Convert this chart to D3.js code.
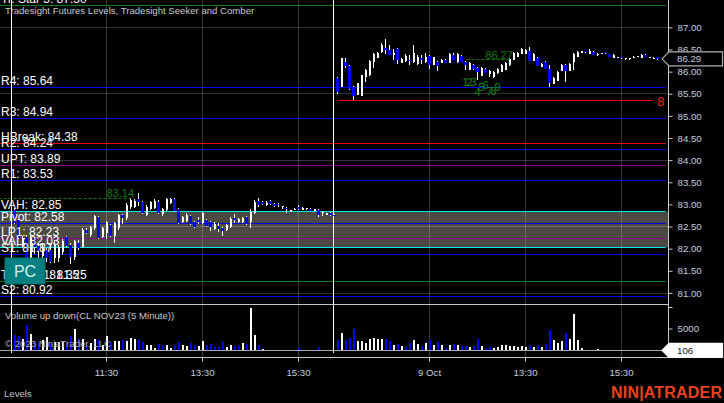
<!DOCTYPE html>
<html><head><meta charset="utf-8">
<script src="https://cdn.jsdelivr.net/npm/d3@7"></script>
<style>
html,body{margin:0;padding:0;background:#000;overflow:hidden}
svg{display:block}
text{font-family:"Liberation Sans",Arial,sans-serif}
</style></head><body><svg id="c" width="724" height="403"></svg>
<script>
// [open, high, low, close]
const session1 = [
[82.87,82.92,82.56,82.58],[82.65,82.67,82.22,82.24],[82.08,82.29,82.02,82.24],[82.26,82.31,81.77,81.79],
[81.79,82.29,81.74,82.24],[82.24,82.26,81.88,82.04],[82.06,82.13,81.79,81.95],[81.83,82.11,81.70,82.02],
[81.97,82.02,81.70,81.79],[81.97,82.08,81.68,81.70],[81.79,82.20,81.68,82.08],[81.79,82.08,81.70,82.04],
[81.92,82.22,81.86,82.17],[82.26,82.29,82.04,82.06],[82.08,82.13,81.65,81.81],[81.81,82.20,81.74,82.17],
[82.13,82.20,81.97,82.02],[82.04,82.47,82.02,82.42],[82.42,82.47,82.33,82.35],[82.31,82.51,82.26,82.49],
[82.47,82.76,82.42,82.74],[82.72,82.74,82.22,82.24],[82.26,82.49,82.24,82.47],[82.35,82.63,82.22,82.60],
[82.53,82.56,82.26,82.29],[82.29,82.60,82.13,82.58],[82.47,82.78,82.42,82.76],[82.76,82.78,82.56,82.69],
[82.69,83.03,82.65,82.99],[82.94,83.15,82.90,83.10],[82.94,83.12,82.92,83.08],[83.12,83.26,82.96,83.05],
[83.05,83.08,82.78,82.80],[82.76,82.99,82.74,82.94],[82.90,83.08,82.87,83.05],[82.92,83.12,82.90,83.08],
[83.05,83.10,82.78,82.81],[82.78,82.92,82.74,82.90],[82.87,83.15,82.85,83.12],[83.03,83.15,83.01,83.12],
[83.12,83.15,82.83,82.85],[82.90,82.92,82.56,82.58],[82.60,82.74,82.58,82.72],[82.63,82.80,82.60,82.76],
[82.74,82.76,82.53,82.56],[82.60,82.63,82.47,82.49],[82.65,82.72,82.56,82.60],[82.58,82.83,82.56,82.81],
[82.65,82.67,82.49,82.51],[82.60,82.63,82.40,82.49],[82.44,82.60,82.42,82.56],[82.51,82.58,82.38,82.44],
[82.47,82.49,82.29,82.40],[82.42,82.56,82.40,82.53],[82.49,82.72,82.47,82.67],[82.69,82.78,82.58,82.65],
[82.60,82.69,82.58,82.67],[82.60,82.72,82.58,82.69],[82.72,82.74,82.53,82.56],[82.60,82.90,82.47,82.83],
[82.81,83.10,82.78,83.05],[83.08,83.15,82.94,82.99],[83.05,83.08,82.99,83.01],[82.99,83.08,82.96,83.03],
[83.08,83.10,82.99,83.01],[83.01,83.03,82.94,82.96],[83.01,83.03,82.94,82.99],[82.94,82.96,82.90,82.96],
[82.92,82.94,82.81,82.90],[82.83,82.87,82.83,82.87],[82.87,82.92,82.87,82.90],[82.94,82.99,82.87,82.90],
[82.87,82.94,82.87,82.92],[82.88,82.92,82.87,82.91],[82.90,82.92,82.83,82.85],[82.85,82.90,82.85,82.89],
[82.87,82.90,82.72,82.76],[82.80,82.85,82.74,82.83],[82.76,82.81,82.76,82.81],[82.81,82.83,82.74,82.76],
[82.76,82.78,82.74,82.75]];
const session2 = [
[85.86,85.88,85.50,85.54],[85.65,86.31,85.65,86.31],[86.22,86.31,86.08,86.13],[86.13,86.15,85.59,85.61],
[85.65,85.68,85.36,85.45],[85.47,85.75,85.47,85.75],[85.45,85.92,85.45,85.92],[85.88,86.06,85.77,86.04],
[85.92,86.26,85.90,86.24],[86.22,86.42,86.08,86.40],[86.31,86.44,86.31,86.42],[86.44,86.65,86.42,86.60],
[86.53,86.74,86.40,86.49],[86.49,86.60,86.38,86.38],[86.38,86.51,86.26,86.42],[86.51,86.53,86.17,86.26],
[86.20,86.31,86.20,86.29],[86.24,86.40,86.22,86.35],[86.26,86.38,86.15,86.24],[86.22,86.60,86.20,86.42],
[86.17,86.38,86.15,86.33],[86.31,86.38,86.17,86.26],[86.22,86.42,86.20,86.33],[86.35,86.38,86.06,86.15],
[86.15,86.33,86.15,86.33],[86.22,86.24,86.02,86.13],[86.20,86.29,86.20,86.27],[86.26,86.29,86.20,86.20],
[86.20,86.42,86.20,86.40],[86.38,86.42,86.26,86.26],[86.22,86.42,86.20,86.40],[86.35,86.38,86.22,86.22],
[86.22,86.24,86.04,86.15],[86.04,86.22,86.04,86.20],[86.15,86.17,86.04,86.06],[86.08,86.11,85.81,85.99],
[85.90,86.11,85.90,86.08],[86.06,86.08,85.97,85.97],[85.95,86.04,85.88,86.02],[85.88,86.02,85.86,86.00],
[85.97,86.08,85.95,86.06],[86.00,86.17,85.99,86.15],[86.04,86.22,86.04,86.20],[86.15,86.31,86.13,86.29],
[86.26,86.44,86.26,86.42],[86.33,86.44,86.33,86.42],[86.40,86.53,86.40,86.51],[86.40,86.51,86.40,86.49],
[86.47,86.56,86.24,86.24],[86.24,86.42,86.24,86.40],[86.31,86.33,86.13,86.13],[86.11,86.20,86.11,86.18],
[86.22,86.24,86.06,86.06],[86.06,86.15,85.65,85.74],[85.72,85.88,85.72,85.86],[85.79,86.02,85.79,86.00],
[86.02,86.17,86.02,86.15],[86.15,86.17,85.77,86.02],[86.02,86.20,86.02,86.18],[86.22,86.42,86.04,86.40],
[86.33,86.47,86.33,86.45],[86.42,86.47,86.42,86.46],[86.46,86.47,86.42,86.43],[86.41,86.51,86.40,86.47],
[86.44,86.46,86.38,86.38],[86.37,86.42,86.35,86.40],[86.40,86.42,86.40,86.42],[86.44,86.45,86.40,86.41],
[86.40,86.41,86.33,86.34],[86.32,86.40,86.31,86.38],[86.32,86.34,86.31,86.33],[86.33,86.34,86.29,86.30],
[86.27,86.31,86.26,86.30],[86.28,86.31,86.26,86.30],[86.31,86.35,86.31,86.34],[86.33,86.35,86.33,86.35],
[86.32,86.40,86.31,86.38],[86.38,86.40,86.33,86.34],[86.32,86.34,86.31,86.33],[86.30,86.33,86.29,86.32],
[86.33,86.34,86.27,86.29]];
// positive = up volume, negative = down volume
const volume1 = [-3565,-3330,2790,-5890,3800,-2015,-1630,2400,3180,-1630,2015,2015,2015,-2015,-3330,4960,
-2790,2560,-1240,1780,2635,-2400,1240,3330,-2015,2325,2325,-2400,2250,2870,2710,-2400,-1940,1395,1320,540,
-1470,-1240,1240,620,-1240,-2090,1240,1085,-1705,-1320,1085,2170,-1240,-1470,-775,-775,-1940,850,1240,-1085,
-1240,1780,-1470,9840,3565,-1240,310,-155,-155,-155,-155,-155,-155,-230,100,-540,155,155,-230,155,-775,155,155,155];
const volume2 = [-2400,4030,-2400,-2870,-5040,2250,2250,1780,2635,2870,2560,2635,-2635,-2170,1320,-1470,1000,-775,
-1630,2400,1470,-1000,1705,-2400,1240,-1940,1240,-540,1240,-1470,1240,-1000,-1000,775,-1000,-2635,1000,-620,-775,
540,775,1240,1240,1000,1000,775,1000,775,-1240,775,-1240,775,-1470,-4730,2400,1860,2170,-4030,2635,8450,2400,540,
155,-155,-155,310,230,-155,-155,155,-155,155,100,100,100,100,-120,-106];

const priceTicks = [87,86.5,86,85.5,85,84.5,84,83.5,83,82.5,82,81.5,81];
const gridPrices = [87,85.5,84,82.5,81];
const volumeTicks = [5000,10000];
const timeTickBars = [23,47,71,103.75,127.75,151.75];
const timeTickLabels = ["11:30","13:30","15:30","9 Oct","13:30","15:30"];
const sessionBreakBars = [-0.75,79.75];
const session2Offset = 80.75;

const blueLevels = [85.64,84.94,84.24,83.53,82.58,81.87,80.92];
const cyanLevels = [82.85,82.03];
const purpleLevels = [83.89,82.23];
const redLevels = [84.38];
const greenLevels = [87.5,81.26];
const levelLabels = [
 ["Tr. Star 5: 87.50",87.5],["R4: 85.64",85.64],["R3: 84.94",84.94],["HBreak: 84.38",84.38],["R2: 84.24",84.24],
 ["UPT: 83.89",83.89],["R1: 83.53",83.53],["VAH: 82.85",82.85],["Pivot: 82.58",82.58],["LP1: 82.23",82.23],
 ["VAL: 82.03",82.03],["S1: 81.87",81.87],["Tr. Star 1: 81.25",81.26],["Tr. Stop: 81.35",81.26],["S2: 80.92",80.92]];
const seekerDigits = ["1","2","3","4","5","6","7","8","9"];
const seekerBars = [32,33,34,35,36,37,38,39,40].map(d=>d+session2Offset);
const seekerPrices = [85.77,85.77,85.77,85.54,85.65,85.70,85.56,85.56,85.65];
const targets = [{label:"83.14",price:83.14,from:-4,to:29,labelBar:23},{label:"86.27",price:86.27,from:113,to:124,labelBar:117.7}];
const redSetup = {price:85.35,from:80.75,to:159.6,mark:"8",markBar:161.6};
const lastPrice = 86.29, lastVolume = 106;

const svg = d3.select("#c");
const x = d3.scaleLinear().domain([0,1]).range([14.5,18.5]);
const y = d3.scaleLinear().domain([81,87]).range([292.92,27.42]);
const v = d3.scaleLinear().domain([0,10000]).range([350.5,307.5]);
const R = 668.5, row = p => Math.floor(p)+0.5;
const gridC = "rgba(255,255,255,0.2)", blue="#0000f0";

function hline(yy,x1,x2,c,w,dash){
  svg.append("line").attr("x1",x1).attr("x2",x2).attr("y1",yy).attr("y2",yy)
   .attr("stroke",c).attr("stroke-width",w||1).attr("stroke-dasharray",dash||null);
}
// band between VAH and VAL
svg.append("rect").attr("x",0).attr("width",R).attr("y",row(y(cyanLevels[0]))).attr("height",row(y(cyanLevels[1]))-row(y(cyanLevels[0]))).attr("fill","#4b4941");
// grid
gridPrices.forEach(p=>hline(row(y(p)+0.2),0,R,gridC));
timeTickBars.forEach(b=>svg.append("line").attr("x1",x(b)).attr("x2",x(b)).attr("y1",0).attr("y2",357).attr("stroke",gridC));
// levels
blueLevels.forEach(p=>hline(row(y(p)),0,665.5,blue));
cyanLevels.forEach(p=>hline(row(y(p)),0,665.5,"#00f0f0"));
purpleLevels.forEach(p=>hline(row(y(p)),0,665.5,"#900090"));
redLevels.forEach(p=>hline(row(y(p)),0,665.5,"#f00000"));
greenLevels.forEach(p=>hline(row(y(p)),0,665.5,"#0a800a"));
// session separators
sessionBreakBars.forEach(b=>svg.append("line").attr("x1",Math.floor(x(b))+.5).attr("x2",Math.floor(x(b))+.5).attr("y1",0).attr("y2",353).attr("stroke","#fff"));
// candles
const bars = session1.map((d,i)=>({d,b:i})).concat(session2.map((d,i)=>({d,b:i+session2Offset})));
const g = svg.append("g");
g.selectAll("line").data(bars).join("line").attr("x1",e=>x(e.b)).attr("x2",e=>x(e.b))
 .attr("y1",e=>Math.round(y(e.d[1]))).attr("y2",e=>Math.round(y(e.d[2]))).attr("stroke","#fff");
g.selectAll("rect").data(bars).join("rect")
 .attr("x",e=>x(e.b)-(e.d[3]>=e.d[0]?0.5:1.5)).attr("width",e=>e.d[3]>=e.d[0]?2:3)
 .attr("y",e=>Math.round(y(Math.max(e.d[0],e.d[3])))).attr("height",e=>Math.max(1,Math.round(Math.abs(y(e.d[0])-y(e.d[3])))))
 .attr("fill",e=>e.d[3]>=e.d[0]?"#fff":"#0000ff");
// targets
const dg="#0f7a0f";
targets.forEach(t=>{
  hline(row(y(t.price)),x(t.from),x(t.to),dg,1,"3,2");
  svg.append("text").attr("x",x(t.labelBar)).attr("y",y(t.price)-1).attr("fill",dg).attr("font-size",11).text(t.label);
});
// seeker
svg.selectAll("text.sk").data(seekerDigits).join("text").attr("class","sk")
 .attr("x",(d,i)=>x(seekerBars[i])).attr("y",(d,i)=>y(seekerPrices[i])+4).attr("text-anchor","middle")
 .attr("fill","#118a11").attr("font-size",11).text(d=>d);
hline(row(y(redSetup.price)),x(redSetup.from),x(redSetup.to),"#f00000",1);
svg.append("text").attr("x",x(redSetup.markBar)).attr("y",y(redSetup.price)+6).attr("text-anchor","middle").attr("fill","#f02808").attr("font-size",13).text(redSetup.mark);
// volume
const vols = volume1.map((d,i)=>({d,b:i})).concat(volume2.map((d,i)=>({d,b:i+session2Offset})));
svg.append("g").selectAll("rect").data(vols).join("rect").attr("x",e=>x(e.b)-0.5).attr("width",2)
 .attr("y",e=>Math.round(v(Math.abs(e.d)))).attr("height",e=>350.5-Math.round(v(Math.abs(e.d)))).attr("fill",e=>e.d>=0?"#fff":"#0000ff");
hline(350.5,0,R,"#aaaaaa");
// panel frame
hline(304.5,0,R,"#c8c8c8"); hline(357.5,0,R,"#c8c8c8");
svg.append("line").attr("x1",R).attr("x2",R).attr("y1",0).attr("y2",358).attr("stroke","#c8c8c8");
// axes
const axC="#c4cede";
function style(sel){
  sel.selectAll("path.domain").remove();
  sel.selectAll("line").attr("stroke","#c8c8c8");
  sel.selectAll("text").attr("fill",axC).attr("font-size",9.7).attr("font-family",'"Liberation Sans"');
}
svg.append("g").attr("transform",`translate(${R},0)`)
 .call(d3.axisRight(y).tickValues(priceTicks).tickSize(4).tickPadding(5).tickFormat(d3.format(".2f")).offset(0.5)).call(style);
svg.append("g").attr("transform",`translate(${R},0)`)
 .call(d3.axisRight(v).tickValues(volumeTicks).tickSize(4).tickPadding(5).tickFormat(d=>d==5000?"5000":"").offset(0)).call(style);
svg.append("g").attr("transform","translate(0,357.5)")
 .call(d3.axisBottom(x).tickValues(timeTickBars).tickSize(4).tickPadding(8).tickFormat((d,i)=>timeTickLabels[i]).offset(0)).call(style);
// last price / volume flags
const flag=(cy,fill,stroke,txt,tc)=>{
  svg.append("path").attr("d",`M662,${cy}L669,${cy-7}H722.5V${cy+7}H669Z`).attr("fill",fill).attr("stroke",stroke).attr("stroke-width",1.2);
  svg.append("text").attr("x",677).attr("y",cy+3.5).attr("fill",tc).attr("font-size",9.7).text(txt);
};
flag(y(lastPrice),"#000","#b0b0b0",lastPrice.toFixed(2),axC);
flag(v(lastVolume)+.3,"#fff","#fff",String(lastVolume),"#222");
// level labels
svg.selectAll("text.lv").data(levelLabels).join("text").attr("class","lv")
 .attr("x",1).attr("y",d=>Math.floor(y(d[1]))-2).attr("fill","#fff").attr("font-size",12).text(d=>d[0]);
// titles
const lab=(t,xx,yy,c,s,tl)=>{const e=svg.append("text").attr("x",xx).attr("y",yy).attr("fill",c).attr("font-size",s).text(t); if(tl) e.attr("textLength",tl); return e;};
lab("Tradesight Futures Levels, Tradesight Seeker and Comber",5,13.5,"#c8c8c8",9.6);
lab("Volume up down(CL NOV23 (5 Minute))",5,319,"#c8c8c8",9.6);
lab("\u00a9 2023 NinjaTrader, LLC",5,347,"#a4aebc",9.6);
lab("Levels",4,397,"#c0c0c0",9.6);
lab("NIN|ATRADER",611,397.5,"#e8421e",16,111).attr("font-weight","bold");
// PC
svg.append("rect").attr("x",5).attr("y",258).attr("width",40).attr("height",26).attr("fill","#058080").attr("stroke","#0c6f6f");
svg.append("text").attr("x",25).attr("y",277).attr("text-anchor","middle").attr("fill","#d8efef").attr("font-size",16).text("PC");
</script></body></html>
